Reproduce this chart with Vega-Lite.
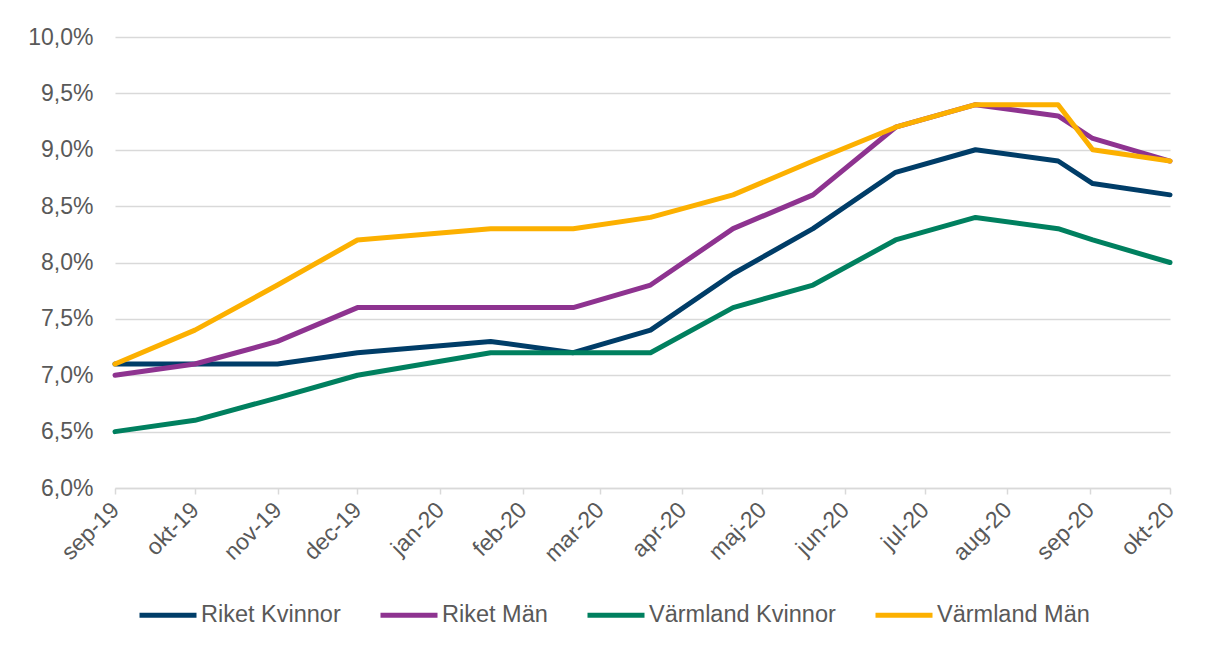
{
  "$schema": "https://vega.github.io/schema/vega-lite/v6.json",
  "autosize": {"type": "none"},
  "width": 1055,
  "height": 451,
  "padding": {"left": 115, "top": 37, "right": 38, "bottom": 157},
  "background": "white",
  "config": {
    "view": {"stroke": null},
    "font": "Liberation Sans",
    "axis": {"labelFont": "Liberation Sans", "labelColor": "#595959", "labelFontSize": 23}
  },
  "data": {
    "format": {"parse": {"date": "date:'%Y-%m-%d'"}},
    "values": [
      {"date": "2019-09-01", "series": "Riket Kvinnor", "value": 7.1},
      {"date": "2019-10-01", "series": "Riket Kvinnor", "value": 7.1},
      {"date": "2019-11-01", "series": "Riket Kvinnor", "value": 7.1},
      {"date": "2019-12-01", "series": "Riket Kvinnor", "value": 7.2},
      {"date": "2020-01-20", "series": "Riket Kvinnor", "value": 7.3},
      {"date": "2020-02-20", "series": "Riket Kvinnor", "value": 7.2},
      {"date": "2020-03-20", "series": "Riket Kvinnor", "value": 7.4},
      {"date": "2020-04-20", "series": "Riket Kvinnor", "value": 7.9},
      {"date": "2020-05-20", "series": "Riket Kvinnor", "value": 8.3},
      {"date": "2020-06-20", "series": "Riket Kvinnor", "value": 8.8},
      {"date": "2020-07-20", "series": "Riket Kvinnor", "value": 9.0},
      {"date": "2020-08-20", "series": "Riket Kvinnor", "value": 8.9},
      {"date": "2020-09-02", "series": "Riket Kvinnor", "value": 8.7},
      {"date": "2020-10-01", "series": "Riket Kvinnor", "value": 8.6},
      {"date": "2019-09-01", "series": "Riket Män", "value": 7.0},
      {"date": "2019-10-01", "series": "Riket Män", "value": 7.1},
      {"date": "2019-11-01", "series": "Riket Män", "value": 7.3},
      {"date": "2019-12-01", "series": "Riket Män", "value": 7.6},
      {"date": "2020-01-20", "series": "Riket Män", "value": 7.6},
      {"date": "2020-02-20", "series": "Riket Män", "value": 7.6},
      {"date": "2020-03-20", "series": "Riket Män", "value": 7.8},
      {"date": "2020-04-20", "series": "Riket Män", "value": 8.3},
      {"date": "2020-05-20", "series": "Riket Män", "value": 8.6},
      {"date": "2020-06-20", "series": "Riket Män", "value": 9.2},
      {"date": "2020-07-20", "series": "Riket Män", "value": 9.4},
      {"date": "2020-08-20", "series": "Riket Män", "value": 9.3},
      {"date": "2020-09-02", "series": "Riket Män", "value": 9.1},
      {"date": "2020-10-01", "series": "Riket Män", "value": 8.9},
      {"date": "2019-09-01", "series": "Värmland Kvinnor", "value": 6.5},
      {"date": "2019-10-01", "series": "Värmland Kvinnor", "value": 6.6},
      {"date": "2019-11-01", "series": "Värmland Kvinnor", "value": 6.8},
      {"date": "2019-12-01", "series": "Värmland Kvinnor", "value": 7.0},
      {"date": "2020-01-20", "series": "Värmland Kvinnor", "value": 7.2},
      {"date": "2020-02-20", "series": "Värmland Kvinnor", "value": 7.2},
      {"date": "2020-03-20", "series": "Värmland Kvinnor", "value": 7.2},
      {"date": "2020-04-20", "series": "Värmland Kvinnor", "value": 7.6},
      {"date": "2020-05-20", "series": "Värmland Kvinnor", "value": 7.8},
      {"date": "2020-06-20", "series": "Värmland Kvinnor", "value": 8.2},
      {"date": "2020-07-20", "series": "Värmland Kvinnor", "value": 8.4},
      {"date": "2020-08-20", "series": "Värmland Kvinnor", "value": 8.3},
      {"date": "2020-09-02", "series": "Värmland Kvinnor", "value": 8.2},
      {"date": "2020-10-01", "series": "Värmland Kvinnor", "value": 8.0},
      {"date": "2019-09-01", "series": "Värmland Män", "value": 7.1},
      {"date": "2019-10-01", "series": "Värmland Män", "value": 7.4},
      {"date": "2019-11-01", "series": "Värmland Män", "value": 7.8},
      {"date": "2019-12-01", "series": "Värmland Män", "value": 8.2},
      {"date": "2020-01-20", "series": "Värmland Män", "value": 8.3},
      {"date": "2020-02-20", "series": "Värmland Män", "value": 8.3},
      {"date": "2020-03-20", "series": "Värmland Män", "value": 8.4},
      {"date": "2020-04-20", "series": "Värmland Män", "value": 8.6},
      {"date": "2020-05-20", "series": "Värmland Män", "value": 8.9},
      {"date": "2020-06-20", "series": "Värmland Män", "value": 9.2},
      {"date": "2020-07-20", "series": "Värmland Män", "value": 9.4},
      {"date": "2020-08-20", "series": "Värmland Män", "value": 9.4},
      {"date": "2020-09-02", "series": "Värmland Män", "value": 9.0},
      {"date": "2020-10-01", "series": "Värmland Män", "value": 8.9}
    ]
  },
  "mark": {"type": "line", "strokeWidth": 5, "strokeCap": "round", "strokeJoin": "round"},
  "encoding": {
    "x": {
      "field": "date",
      "type": "temporal",
      "scale": {
        "domain": [{"year": 2019, "month": 9, "date": 1}, {"year": 2020, "month": 10, "date": 1}],
        "nice": false
      },
      "axis": {
        "title": null,
        "grid": false,
        "values": [
          {"year": 2019, "month": 9, "date": 1},
          {"year": 2019, "month": 10, "date": 1},
          {"year": 2019, "month": 11, "date": 1},
          {"year": 2019, "month": 12, "date": 1},
          {"year": 2020, "month": 1, "date": 1},
          {"year": 2020, "month": 2, "date": 1},
          {"year": 2020, "month": 3, "date": 1},
          {"year": 2020, "month": 4, "date": 1},
          {"year": 2020, "month": 5, "date": 1},
          {"year": 2020, "month": 6, "date": 1},
          {"year": 2020, "month": 7, "date": 1},
          {"year": 2020, "month": 8, "date": 1},
          {"year": 2020, "month": 9, "date": 1},
          {"year": 2020, "month": 10, "date": 1}
        ],
        "labelExpr": "['jan','feb','mar','apr','maj','jun','jul','aug','sep','okt','nov','dec'][month(datum.value)] + '-' + timeFormat(datum.value, '%y')",
        "labelAngle": -45,
        "labelAlign": "right",
        "labelBaseline": "middle",
        "labelPadding": 12,
        "labelOverlap": false,
        "labelBound": false,
        "labelFlush": false,
        "domainColor": "#d9d9d9",
        "domainWidth": 1.5,
        "tickColor": "#d9d9d9",
        "tickWidth": 1.5,
        "tickSize": 6
      }
    },
    "y": {
      "field": "value",
      "type": "quantitative",
      "scale": {"domain": [6, 10], "nice": false, "zero": false},
      "axis": {
        "title": null,
        "values": [6, 6.5, 7, 7.5, 8, 8.5, 9, 9.5, 10],
        "labelExpr": "replace(format(datum.value, '.1f'), '.', ',') + '%'",
        "domain": false,
        "ticks": false,
        "labelPadding": 22,
        "gridColor": "#d9d9d9",
        "gridWidth": 1.5
      }
    },
    "color": {
      "field": "series",
      "type": "nominal",
      "scale": {
        "domain": ["Riket Kvinnor", "Riket Män", "Värmland Kvinnor", "Värmland Män"],
        "range": ["#003d68", "#8e3390", "#00805f", "#fcb000"]
      },
      "legend": {
        "title": null,
        "orient": "none",
        "legendX": 22,
        "legendY": 547,
        "direction": "horizontal",
        "symbolType": "stroke",
        "symbolSize": 3249,
        "symbolStrokeWidth": 5,
        "columnPadding": 29,
        "labelOffset": 2,
        "labelFont": "Liberation Sans",
        "labelFontSize": 23.5,
        "labelColor": "#595959",
        "labelLimit": 400
      }
    }
  }
}
